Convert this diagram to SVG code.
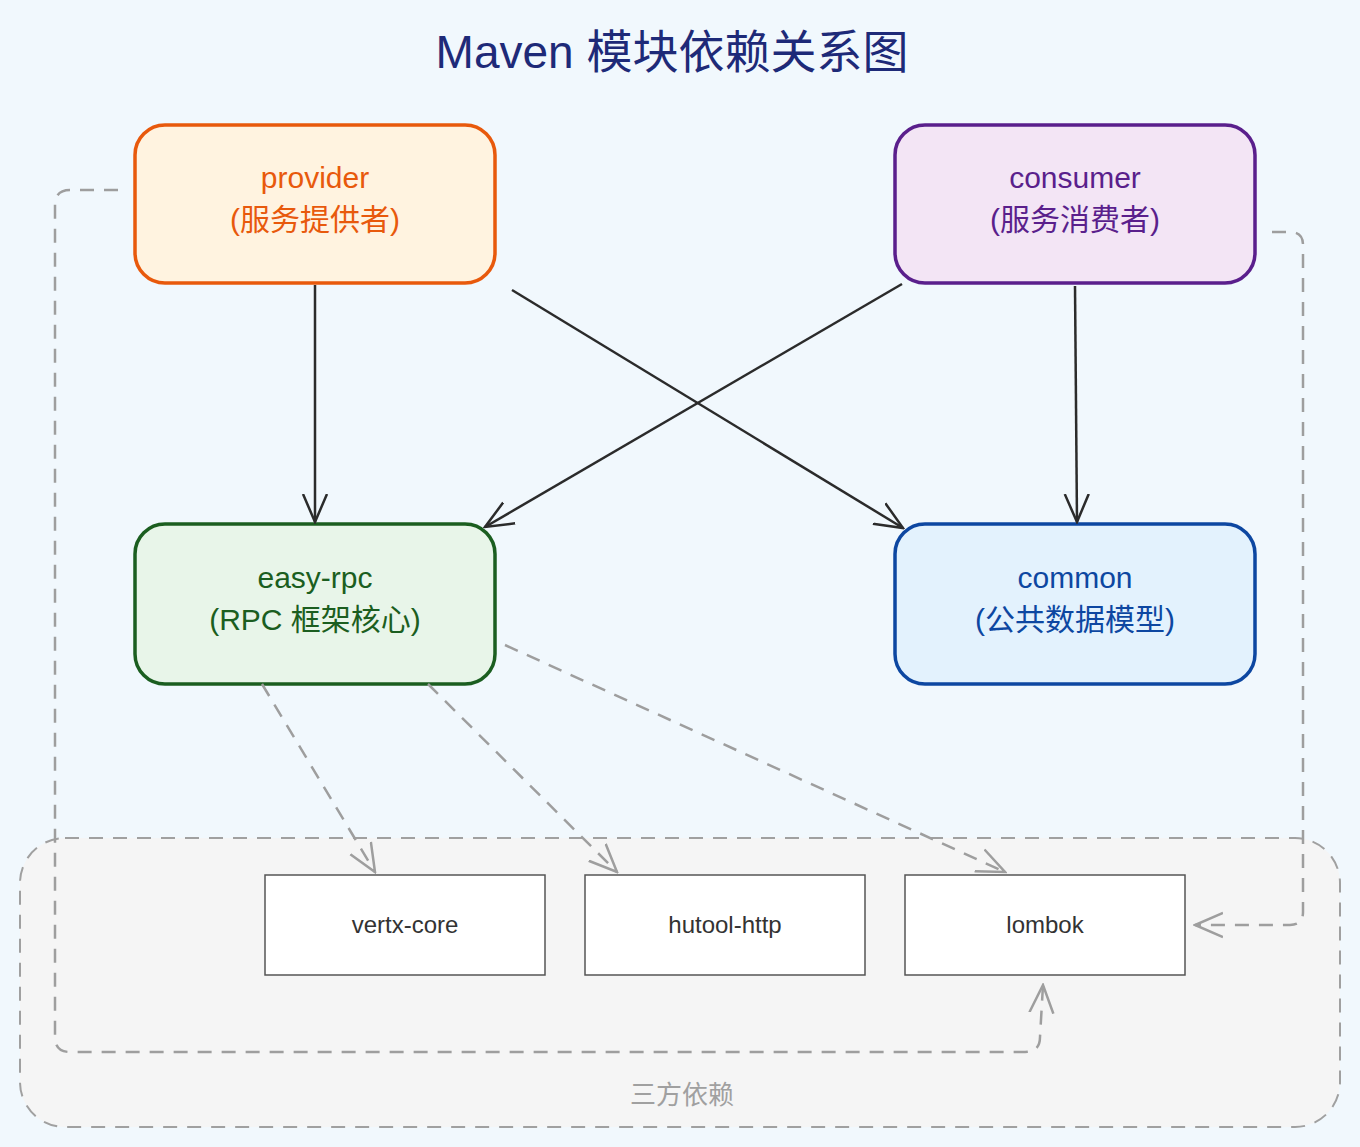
<svg xmlns="http://www.w3.org/2000/svg" width="1360" height="1147" viewBox="0 0 1360 1147">
<style>
.t{font-family:"Liberation Sans","Noto Sans CJK SC",sans-serif;text-anchor:middle}
.solid{stroke:#2b2b2b;stroke-width:2.5;fill:none}
.dash{stroke:#9e9e9e;stroke-width:2.5;fill:none;stroke-dasharray:14 10}
.lib{fill:#fff;stroke:#555;stroke-width:1.5}
</style>
<defs>
<marker id="a" viewBox="0 0 30 30" refX="28" refY="15" markerWidth="30" markerHeight="30" markerUnits="userSpaceOnUse" orient="auto"><path d="M0,3 L28,15 L0,27" fill="none" stroke="#2b2b2b" stroke-width="2.5"/></marker>
<marker id="g" viewBox="0 0 30 30" refX="28" refY="15" markerWidth="30" markerHeight="30" markerUnits="userSpaceOnUse" orient="auto"><path d="M0,3 L28,15 L0,27" fill="none" stroke="#9e9e9e" stroke-width="2.5"/></marker>
</defs>
<rect width="1360" height="1147" fill="#f1f8fd"/>
<text class="t" x="672" y="68" font-size="46" fill="#1e2a78">Maven 模块依赖关系图</text>
<g id="group"><rect x="20" y="838" width="1320" height="289" rx="45" fill="#f5f5f5" stroke="#a0a0a0" stroke-width="2" stroke-dasharray="14 10"/>
<text class="t" x="682" y="1104" font-size="26" fill="#a0a0a0">三方依赖</text></g>
<g id="provider"><rect x="135" y="125" width="360" height="158" rx="30" fill="#fff3e0" stroke="#e8590c" stroke-width="3.5"/>
<text class="t" x="315" y="188" font-size="30" fill="#e8590c">provider</text><text class="t" x="315" y="230" font-size="30" fill="#e8590c">(服务提供者)</text></g>
<g id="consumer"><rect x="895" y="125" width="360" height="158" rx="30" fill="#f3e5f5" stroke="#5a1f8c" stroke-width="3.5"/>
<text class="t" x="1075" y="188" font-size="30" fill="#5a1f8c">consumer</text><text class="t" x="1075" y="230" font-size="30" fill="#5a1f8c">(服务消费者)</text></g>
<g id="easy-rpc"><rect x="135" y="524" width="360" height="160" rx="30" fill="#e8f5e9" stroke="#1b5e20" stroke-width="3.5"/>
<text class="t" x="315" y="588" font-size="30" fill="#1b5e20">easy-rpc</text><text class="t" x="315" y="630" font-size="30" fill="#1b5e20">(RPC 框架核心)</text></g>
<g id="common"><rect x="895" y="524" width="360" height="160" rx="30" fill="#e3f2fd" stroke="#0d47a1" stroke-width="3.5"/>
<text class="t" x="1075" y="588" font-size="30" fill="#0d47a1">common</text><text class="t" x="1075" y="630" font-size="30" fill="#0d47a1">(公共数据模型)</text></g>
<g id="vertx"><rect class="lib" x="265" y="875" width="280" height="100"/><text class="t" x="405" y="933" font-size="24" fill="#333">vertx-core</text></g>
<g id="hutool"><rect class="lib" x="585" y="875" width="280" height="100"/><text class="t" x="725" y="933" font-size="24" fill="#333">hutool-http</text></g>
<g id="lombok"><rect class="lib" x="905" y="875" width="280" height="100"/><text class="t" x="1045" y="933" font-size="24" fill="#333">lombok</text></g>
<g id="connectors">
<path class="solid" d="M315,285 L315,522" marker-end="url(#a)"/>
<path class="solid" d="M512,290 L903,528" marker-end="url(#a)"/>
<path class="solid" d="M902,284 L485,527" marker-end="url(#a)"/>
<path class="solid" d="M1075,286 L1077,522" marker-end="url(#a)"/>
<path class="dash" d="M262,684 L375,872" marker-end="url(#g)"/>
<path class="dash" d="M428,684 L617,872" marker-end="url(#g)"/>
<path class="dash" d="M505,645 L1005,872" marker-end="url(#g)"/>
<path class="dash" d="M118,190 L70,190 Q55,190 55,205 L55,1037 Q55,1052 70,1052 L1025,1052 Q1040,1052 1040,1037 L1043,985" marker-end="url(#g)"/>
<path class="dash" d="M1272,232 L1290,232 Q1303,232 1303,245 L1303,912 Q1303,925 1290,925 L1195,925" marker-end="url(#g)"/>
</g>
</svg>
